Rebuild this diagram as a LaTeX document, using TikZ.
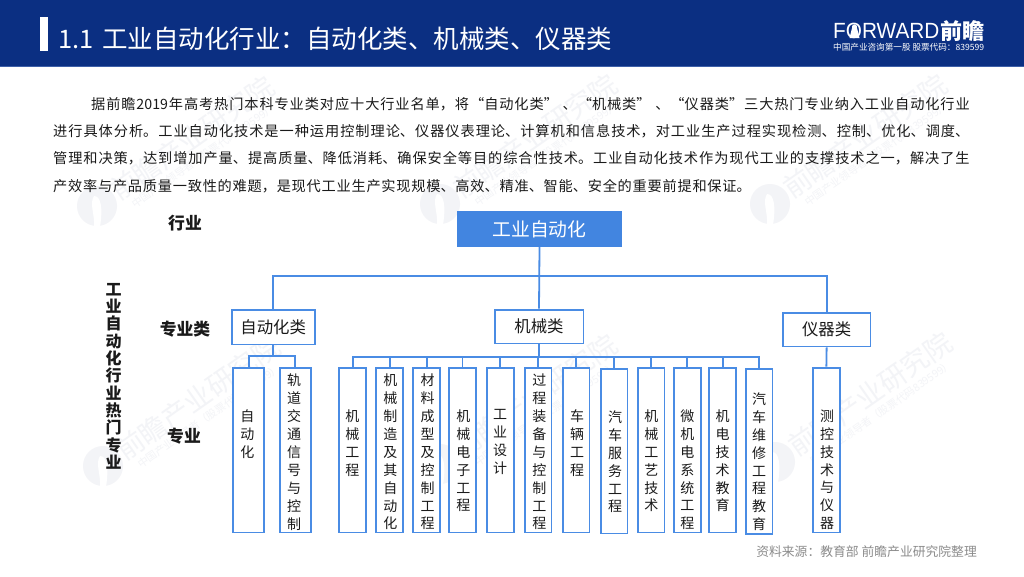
\documentclass[tikz,border=0pt]{standalone}
\usepackage{fontspec}
\setmainfont{Noto Sans CJK SC}
\newfontfamily\latinlogo{Liberation Sans}
\definecolor{navy}{HTML}{0B2F82}
\definecolor{hdrline}{HTML}{3E60A8}
\definecolor{blu}{HTML}{4A8CE4}
\definecolor{rootfill}{HTML}{4285E0}
\definecolor{wmark}{HTML}{F3F4F7}
\definecolor{srcgrey}{HTML}{8C8C8C}
\definecolor{ink}{HTML}{1A1A1A}
\tikzset{
  link/.style={draw=blu,line width=1.8pt},
  boxed/.style={draw=blu,line width=1.8pt,fill=white,inner sep=0pt,rectangle},
  vtext/.style={anchor=north,inner sep=0pt,align=center,text=ink,font=\fontsize{14}{17.9}\selectfont},
  headlabel/.style={inner sep=0pt,text=ink,font=\fontsize{16.8}{18}\selectfont\bfseries},
  cat/.style={inner sep=0pt,text=ink,font=\fontsize{16.4}{18}\selectfont},
  bodyline/.style={anchor=west,inner sep=0pt,text=ink,font=\fontsize{14.2}{18}\selectfont},
}
\newcommand{\vbx}[8]{%
  \node[boxed,minimum width={(#3-#2-1.8)*1pt},minimum height={(#5-#4-1.8)*1pt}] (#1) at ({(#2+#3)/2},{(#4+#5)/2}) {};
  \node[vtext] (#1t) at (#6,#7-6.5) {#8};
}
\newcommand{\catbx}[6]{%
  \node[boxed,cat,minimum width={(#3-#2-1.8)*1pt},minimum height={(#5-#4-1.8)*1pt}] (#1) at ({(#2+#3)/2},{(#4+#5)/2}) {#6};
}
\newcommand{\bline}[5]{%
  \node[bodyline,text width=#4pt] (#1) at (#2,#3) {\XeTeXlinebreaklocale "zh"\XeTeXlinebreakskip=0pt plus 4pt\parfillskip=0pt\noindent #5\par};
}
\newcommand{\wm}[3]{%
  \fill[wmark] (#2,#3) circle (20);
  \fill[white] (#2-3,#3-10) .. controls (#2+4,#3-10) and (#2+6,#3+2) .. (#2+3,#3+21) -- (#2-3,#3+21) .. controls (#2-2,#3+8) and (#2-8,#3-2) .. (#2-3,#3-10) -- cycle;
  \node[rotate=35,text=wmark,inner sep=0pt,font=\fontsize{27.5}{28}\selectfont] (#1a) at (#2+95,#3-68) {前瞻产业研究院};
  \node[rotate=35,text=wmark,inner sep=0pt,font=\fontsize{10.5}{12}\selectfont] (#1b) at (#2+106,#3-50) {中国产业领导者（股票代码839599）};
}
\begin{document}
\begin{tikzpicture}[x=1pt,y=-1pt]
\useasboundingbox (0,0) rectangle (1024,576);
\fill[white] (0,0) rectangle (1024,576);
\wm{wa}{97}{206}
\wm{wb}{440}{204}
\wm{wc}{770}{204}
\wm{wd}{103}{466}
\wm{we}{440}{464}
\wm{wf}{775}{462}
\fill[navy] (0,0) rectangle (1024,66);
\fill[hdrline] (0,66) rectangle (1024,67);
\fill[white] (39.5,17) rectangle (48,50.5);
\node[anchor=west,inner sep=0pt,text=white,font=\fontsize{25.5}{28}\selectfont] (title) at (58,39) {1.1\hspace{3pt} 工业自动化行业：自动化类、机械类、仪器类};
\node[anchor=west,inner sep=0pt,text=white,font=\fontsize{22}{24}\selectfont\latinlogo] (logoa) at (833,31) {\scalebox{0.945}[1]{FORWARD}};
\fill[white] (854.5,27) circle (2.6);
\fill[white] (852,28) -- (857,28) -- (859.5,38) -- (849.5,38) -- cycle;
\node[anchor=west,inner sep=0pt,text=white,font=\fontsize{22}{24}\selectfont\bfseries] (logob) at (940,31) {前瞻};
\node[anchor=west,inner sep=0pt,text=white,font=\fontsize{8.6}{10}\selectfont] (logoc) at (833,47.5) {中国产业咨询第一股 股票代码：839599};
\bline{l1}{91}{104}{885}{据前瞻2019年高考热门本科专业类对应十大行业名单，将“自动化类” 、“机械类” 、“仪器类”三大热门专业纳入工业自动化行业}
\bline{l2}{53}{131.5}{923}{进行具体分析。工业自动化技术是一种运用控制理论、仪器仪表理论、计算机和信息技术，对工业生产过程实现检测、控制、优化、调度、}
\bline{l3}{53}{158.5}{923}{管理和决策，达到增加产量、提高质量、降低消耗、确保安全等目的综合性技术。工业自动化技术作为现代工业的支撑技术之一，解决了生}
\bline{l4}{53}{186}{703}{产效率与产品质量一致性的难题，是现代工业生产实现规模、高效、精准、智能、安全的重要前提和保证。}
\node[headlabel] (h1) at (185,223) {行业};
\node[headlabel] (h2) at (185,329.5) {专业类};
\node[headlabel] (h3) at (184,436.5) {专业};
\node[anchor=north,inner sep=0pt,align=center,text=ink,font=\fontsize{16}{17.3}\selectfont\bfseries] (h4) at (113.5,283) {工\\业\\自\\动\\化\\行\\业\\热\\门\\专\\业};
\node[boxed,fill=rootfill,draw=rootfill,text=white,font=\fontsize{18.8}{20}\selectfont,minimum width=163pt,minimum height=34pt] (root) at (539.5,229) {工业自动化};
\catbx{cauto}{230.7}{315.7}{309.3}{345.3}{自动化类}
\catbx{cmech}{493.7}{584.3}{308.7}{344.3}{机械类}
\catbx{cinst}{782}{871.3}{312}{347.3}{仪器类}
\coordinate (busT) at (0,276);
\coordinate (busA) at (0,355.7);
\coordinate (busM) at (0,356.7);
\vbx{a1}{232.3}{265}{366.7}{533.3}{247.3}{416}{自\\动\\化}
\vbx{a2}{278.7}{311.7}{366.7}{533.3}{294}{380.3}{轨\\道\\交\\通\\信\\号\\与\\控\\制}
\vbx{m1}{338.3}{367}{366.7}{533.3}{352.3}{416}{机\\械\\工\\程}
\vbx{m2}{375.3}{404}{366.7}{533.3}{390.3}{380.3}{机\\械\\制\\造\\及\\其\\自\\动\\化}
\vbx{m3}{412.3}{441}{366.7}{533.3}{427.6}{380.3}{材\\料\\成\\型\\及\\控\\制\\工\\程}
\vbx{m4}{448.3}{476.7}{366.7}{533.3}{463.3}{416}{机\\械\\电\\子\\工\\程}
\vbx{m5}{486}{514.7}{366.7}{533.3}{500}{416}{工\\业\\设\\计}
\vbx{m6}{523.7}{552.3}{366.7}{533.3}{539.3}{380.3}{过\\程\\装\\备\\与\\控\\制\\工\\程}
\vbx{m7}{561.7}{590.3}{366.7}{533.3}{577}{416}{车\\辆\\工\\程}
\vbx{m8}{599.7}{628.3}{367.7}{534.3}{615}{417}{汽\\车\\服\\务\\工\\程}
\vbx{m9}{636.7}{665.3}{366.7}{533.3}{651.3}{416}{机\\械\\工\\艺\\技\\术}
\vbx{m10}{673}{701.7}{366.7}{533.3}{687.3}{416}{微\\机\\电\\系\\统\\工\\程}
\vbx{m11}{708.3}{737}{366.7}{533.3}{722.7}{416}{机\\电\\技\\术\\教\\育}
\vbx{m12}{744.7}{773.3}{368}{534.7}{759}{399}{汽\\车\\维\\修\\工\\程\\教\\育}
\vbx{i1}{812}{840.7}{366.7}{533.3}{827}{416}{测\\控\\技\\术\\与\\仪\\器}
\draw[link] (root.south) -- (root.south |- busT) -| (cauto.north);
\draw[link] (root.south) -- (root.south |- busT) -| (cinst.north);
\draw[link] (root.south) -- (cmech.north);
\draw[link] (cauto.south) -- (cauto.south |- busA) -| (a1.north);
\draw[link] (cauto.south) -- (cauto.south |- busA) -| (a2.north);
\foreach \k in {m1,m2,m3,m4,m5,m6,m7,m8,m9,m10,m11,m12}{
  \draw[link] (cmech.south) -- (cmech.south |- busM) -| (\k.north);
}
\draw[link] (cinst.south) -- (i1.north);
\node[anchor=east,inner sep=0pt,text=srcgrey,font=\fontsize{12.8}{14}\selectfont] (src) at (977,551.5) {资料来源：教育部 前瞻产业研究院整理};
\end{tikzpicture}
\end{document}
